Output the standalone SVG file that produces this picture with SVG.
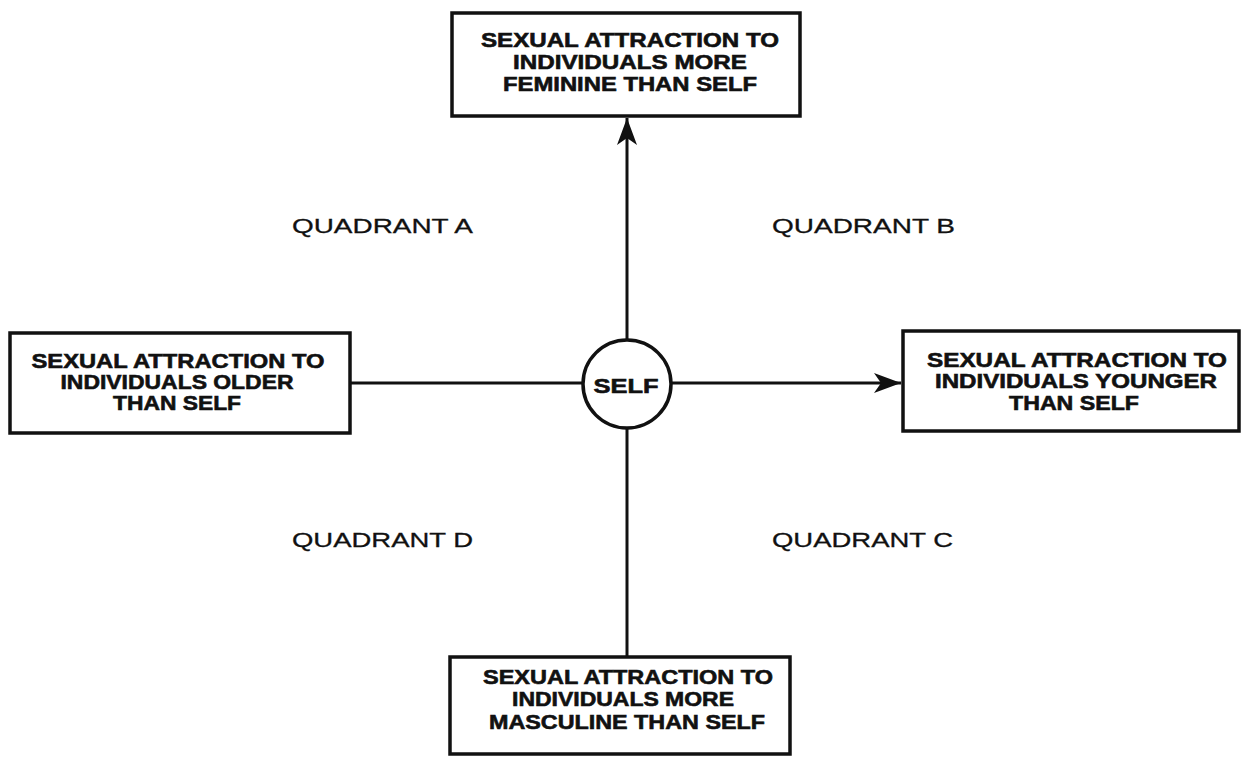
<svg xmlns="http://www.w3.org/2000/svg" width="1244" height="758" viewBox="0 0 1244 758">
<style>
.box{fill:#fff;stroke:#111;stroke-width:3.5}
.bt{font-family:"Liberation Sans",Arial,sans-serif;font-weight:bold;font-size:20px;fill:#111;stroke:#111;stroke-width:0.6;text-anchor:middle}
.q{font-family:"Liberation Sans",Arial,sans-serif;font-size:21px;fill:#111;stroke:#111;stroke-width:0.3}
.ln{stroke:#111;stroke-width:3;fill:none}
</style>
<defs>
<marker id="ah" markerUnits="userSpaceOnUse" markerWidth="30" markerHeight="24" refX="28" refY="12" orient="auto">
<path d="M28,12 L1,2 L8,12 L1,22 Z" fill="#111"/>
</marker>
</defs>
<rect width="1244" height="758" fill="#fff"/>
<g id="connectors">
<line class="ln" x1="627" y1="341" x2="627" y2="118" marker-end="url(#ah)"/>
<line class="ln" x1="671" y1="383" x2="901" y2="383" marker-end="url(#ah)"/>
<line class="ln" x1="350" y1="383" x2="583" y2="383"/>
<line class="ln" x1="627" y1="428" x2="627" y2="657"/>
</g>
<g id="self">
<circle cx="627" cy="384" r="44" fill="#fff" stroke="#111" stroke-width="3.5"/>
<text class="bt" x="626" y="393" font-size="24" textLength="65" lengthAdjust="spacingAndGlyphs">SELF</text>
</g>
<g id="feminine">
<rect class="box" x="452" y="13" width="348" height="103"/>
<text class="bt" x="630" y="47" textLength="298" lengthAdjust="spacingAndGlyphs">SEXUAL ATTRACTION TO</text>
<text class="bt" x="630" y="69" textLength="234" lengthAdjust="spacingAndGlyphs">INDIVIDUALS MORE</text>
<text class="bt" x="630" y="91" textLength="254" lengthAdjust="spacingAndGlyphs">FEMININE THAN SELF</text>
</g>
<g id="older">
<rect class="box" x="10" y="333" width="340" height="100"/>
<text class="bt" x="178" y="368" textLength="293" lengthAdjust="spacingAndGlyphs">SEXUAL ATTRACTION TO</text>
<text class="bt" x="177" y="389" textLength="233" lengthAdjust="spacingAndGlyphs">INDIVIDUALS OLDER</text>
<text class="bt" x="177" y="410" textLength="128" lengthAdjust="spacingAndGlyphs">THAN SELF</text>
</g>
<g id="younger">
<rect class="box" x="903" y="331" width="336" height="100"/>
<text class="bt" x="1077" y="367" textLength="300" lengthAdjust="spacingAndGlyphs">SEXUAL ATTRACTION TO</text>
<text class="bt" x="1076" y="388" textLength="282" lengthAdjust="spacingAndGlyphs">INDIVIDUALS YOUNGER</text>
<text class="bt" x="1074" y="410" textLength="130" lengthAdjust="spacingAndGlyphs">THAN SELF</text>
</g>
<g id="masculine">
<rect class="box" x="450" y="657" width="340" height="97"/>
<text class="bt" x="628" y="684" textLength="290" lengthAdjust="spacingAndGlyphs">SEXUAL ATTRACTION TO</text>
<text class="bt" x="623" y="706" textLength="222" lengthAdjust="spacingAndGlyphs">INDIVIDUALS MORE</text>
<text class="bt" x="627" y="729" textLength="276" lengthAdjust="spacingAndGlyphs">MASCULINE THAN SELF</text>
</g>
<g id="quadrants">
<text class="q" x="292" y="233" textLength="181" lengthAdjust="spacingAndGlyphs">QUADRANT A</text>
<text class="q" x="772" y="233" textLength="183" lengthAdjust="spacingAndGlyphs">QUADRANT B</text>
<text class="q" x="772" y="547" textLength="181" lengthAdjust="spacingAndGlyphs">QUADRANT C</text>
<text class="q" x="292" y="547" textLength="181" lengthAdjust="spacingAndGlyphs">QUADRANT D</text>
</g>
</svg>
